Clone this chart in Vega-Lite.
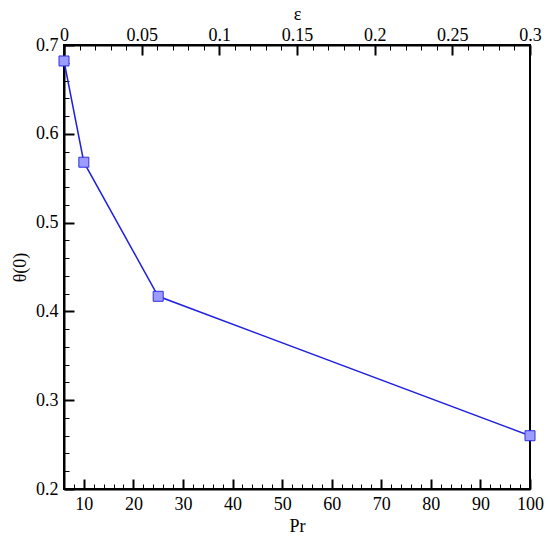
{
  "$schema": "https://vega.github.io/schema/vega-lite/v6.json",
  "autosize": {"type": "none"},
  "padding": {"left": 64, "top": 45, "right": 20, "bottom": 52},
  "width": 466,
  "height": 444,
  "config": {
    "view": {"stroke": "black", "strokeWidth": 2},
    "font": "Liberation Serif",
    "axis": {
      "grid": false,
      "domainColor": "black",
      "domainWidth": 2,
      "tickColor": "black",
      "tickSize": -10,
      "labelColor": "black",
      "labelFont": "Liberation Serif",
      "labelFontSize": 18,
      "titleFont": "Liberation Serif",
      "titleFontSize": 18,
      "titleFontWeight": "normal",
      "titleColor": "black",
      "labelOverlap": false,
      "labelFlush": false
    }
  },
  "layer": [
    {
      "data": {"values": [
        {"Pr": 6, "theta": 0.682},
        {"Pr": 10, "theta": 0.568},
        {"Pr": 25, "theta": 0.417},
        {"Pr": 100, "theta": 0.26}
      ]},
      "layer": [
        {
          "mark": {"type": "line", "color": "#2020e0", "strokeWidth": 1.5, "clip": false},
          "encoding": {
            "x": {"field": "Pr", "type": "quantitative"},
            "y": {"field": "theta", "type": "quantitative"}
          }
        },
        {
          "mark": {"type": "point", "shape": "square", "size": 100, "filled": true, "fill": "#9c9cff", "stroke": "#3030e0", "strokeWidth": 1, "opacity": 1, "clip": false},
          "encoding": {
            "x": {"field": "Pr", "type": "quantitative"},
            "y": {"field": "theta", "type": "quantitative"}
          }
        }
      ],
      "encoding": {
        "x": {
          "field": "Pr", "type": "quantitative",
          "scale": {"domain": [6, 100], "nice": false, "zero": false},
          "axis": {
            "orient": "bottom",
            "title": "Pr",
            "titlePadding": 4,
            "values": [8,10,12,14,16,18,20,22,24,26,28,30,32,34,36,38,40,42,44,46,48,50,52,54,56,58,60,62,64,66,68,70,72,74,76,78,80,82,84,86,88,90,92,94,96,98,100],
            "labelExpr": "datum.value % 10 == 0 ? format(datum.value, 'd') : ''",
            "tickWidth": {"condition": {"test": "datum.value % 10 == 0", "value": 2}, "value": 1},
            "tickDash": {"condition": {"test": "datum.value % 10 == 0", "value": [20, 0]}, "value": [5, 30]},
            "labelPadding": 16
          }
        },
        "y": {
          "field": "theta", "type": "quantitative",
          "scale": {"domain": [0.2, 0.7], "nice": false, "zero": false},
          "axis": {
            "orient": "left",
            "title": "θ(0)",
            "titlePadding": 6,
            "values": [0.2,0.22,0.24,0.26,0.28,0.3,0.32,0.34,0.36,0.38,0.4,0.42,0.44,0.46,0.48,0.5,0.52,0.54,0.56,0.58,0.6,0.62,0.64,0.66,0.68,0.7],
            "labelExpr": "abs(datum.value*10 - round(datum.value*10)) < 1e-6 ? format(datum.value, '.1f') : ''",
            "tickWidth": {"condition": {"test": "abs(datum.value*10 - round(datum.value*10)) < 1e-6", "value": 2}, "value": 1},
            "tickDash": {"condition": {"test": "abs(datum.value*10 - round(datum.value*10)) < 1e-6", "value": [20, 0]}, "value": [5, 30]},
            "labelPadding": 16
          }
        }
      }
    },
    {
      "data": {"values": [{"eps": 0}, {"eps": 0.3}]},
      "mark": {"type": "point", "opacity": 0},
      "encoding": {
        "x": {
          "field": "eps", "type": "quantitative",
          "scale": {"domain": [0, 0.3], "nice": false, "zero": false},
          "axis": {
            "orient": "top",
            "title": "ε",
            "titlePadding": 3,
            "values": [0,0.01,0.02,0.03,0.04,0.05,0.06,0.07,0.08,0.09,0.1,0.11,0.12,0.13,0.14,0.15,0.16,0.17,0.18,0.19,0.2,0.21,0.22,0.23,0.24,0.25,0.26,0.27,0.28,0.29,0.3],
            "labelExpr": "abs(datum.value*20 - round(datum.value*20)) < 1e-6 ? format(datum.value, '.2~f') : ''",
            "tickWidth": {"condition": {"test": "abs(datum.value*20 - round(datum.value*20)) < 1e-6", "value": 2}, "value": 1},
            "tickDash": {"condition": {"test": "abs(datum.value*20 - round(datum.value*20)) < 1e-6", "value": [20, 0]}, "value": [5, 30]},
            "labelPadding": 11
          }
        }
      }
    }
  ],
  "resolve": {"scale": {"x": "independent"}}
}
